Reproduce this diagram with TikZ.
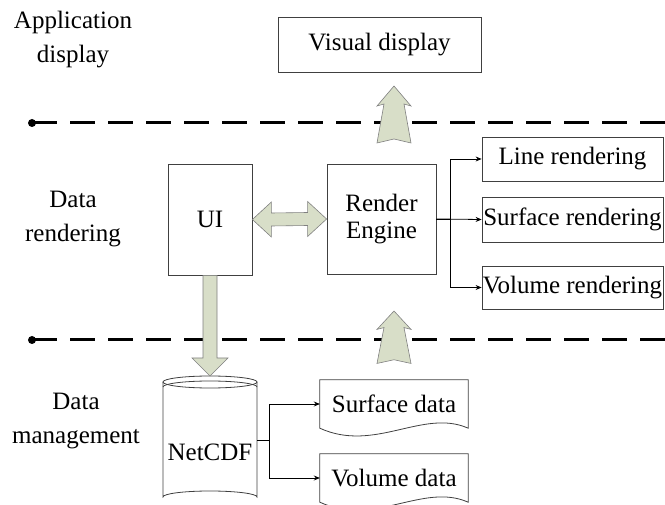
\documentclass[tikz,border=0pt]{standalone}
\usepackage{fontspec}
\setmainfont{Liberation Serif}
\usetikzlibrary{arrows.meta,calc}

\definecolor{arrowfill}{RGB}{216,222,200}

\tikzset{
  blk/.style={draw=black!75, line width=0.8pt, inner sep=0pt, align=center},
  doc/.style={inner sep=0pt, minimum width=148pt, minimum height=48pt},
  lbl/.style={align=center, inner sep=0pt},
  fat/.style={draw=black!50, line width=0.6pt, fill=arrowfill, line join=miter},
  layer/.style={line width=3pt, dash pattern=on 25pt off 13pt},
  link/.style={line width=0.8pt, -{Stealth[length=6pt,width=5pt]}},
}

\begin{document}
\begin{tikzpicture}[x=1pt, y=-1pt, font=\fontsize{25}{34}\selectfont]

\useasboundingbox (0,0) rectangle (665,505);

% Layer borders
\foreach \ly in {123,340}
{
\draw[layer] (32,\ly) -- (665,\ly);
\fill (32,\ly) circle (4pt);
}

% Layer names
\node[lbl] (appl) at (73,40) {Application\\display};
\node[lbl] (rendl) at (73,219) {Data\\rendering};
\node[lbl] (mgmtl) at (76,421) {Data\\management};

% Boxes
\node[blk, minimum width=203pt, minimum height=55pt] (vis) at (379.5,44.5) {Visual display};
\node[blk, minimum width=84pt, minimum height=111pt] (ui) at (210,219.5) {UI};
\node[blk, minimum width=109pt, minimum height=110pt, font=\fontsize{25}{27}\selectfont] (eng) at (381.5,219) {Render\\Engine};

\node[blk, minimum width=181pt, minimum height=44pt] (lrend) at (572.5,159) {Line rendering};
\node[blk, minimum width=181pt, minimum height=45pt] (srend) at (572.5,219.5) {Surface rendering};
\node[blk, minimum width=181pt, minimum height=43pt] (vrend) at (572.5,287.5) {Volume rendering};

% Render engine outputs
\draw[link] (eng.east) -- ++(14,0) |- (lrend.west);
\draw[link] (eng.east) -- (srend.west);
\draw[link] (eng.east) -- ++(14,0) |- (vrend.west);

% NetCDF store
\draw[blk] (163,382) -- (163,497) arc[start angle=180, end angle=360, x radius=47, y radius=6] -- (257,382);
\draw[blk] (210,382) ellipse [x radius=47, y radius=6];
\draw[blk] (163,387) arc[start angle=180, end angle=360, x radius=47, y radius=6];
\node[lbl] (cdf) at (210,452) {NetCDF};
\coordinate (dbtop) at (210,376);
\coordinate (dbout) at (257,440);

% Data files
\node[doc] (sdata) at (394,404) {Surface data};
\node[doc] (vdata) at (394,478) {Volume data};
\foreach \d in {sdata,vdata}
{
\draw[blk] (\d.north west) -- (\d.north east) -- (\d.south east)
  .. controls +(-45,-20) and +(55,25) .. (\d.south west) -- cycle;
}

\draw[link] (dbout) -- ++(12,0) |- (sdata.west);
\draw[link] (dbout) -- ++(12,0) |- (vdata.west);

% Block arrows
\draw[fat] (ui.east) -- ++(19,-17.5) -- ++(0,11) -- ($(eng.west)+(-19,-6.5)$) -- ++(0,-11)
  -- (eng.west) -- ++(-19,17.5) -- ++(0,-11) -- ($(ui.east)+(19,6.5)$) -- ++(0,11) -- cycle;

\draw[fat] ($(ui.south)+(-7,0)$) -- ($(dbtop)+(-7,-18)$) -- ++(-11,0) -- (dbtop)
  -- ++(18,-18) -- ++(-11,0) -- ($(ui.south)+(7,0)$) -- cycle;

\foreach \tx/\ty/\s in {394/86/1, 394/311/0.92}
{
\draw[fat, shift={(\tx,\ty)}, yscale=\s] (0,0) -- (17,20) -- (10,18) -- (17,57) -- (0,53)
  -- (-17,57) -- (-10,18) -- (-17,20) -- cycle;
}

\end{tikzpicture}
\end{document}
